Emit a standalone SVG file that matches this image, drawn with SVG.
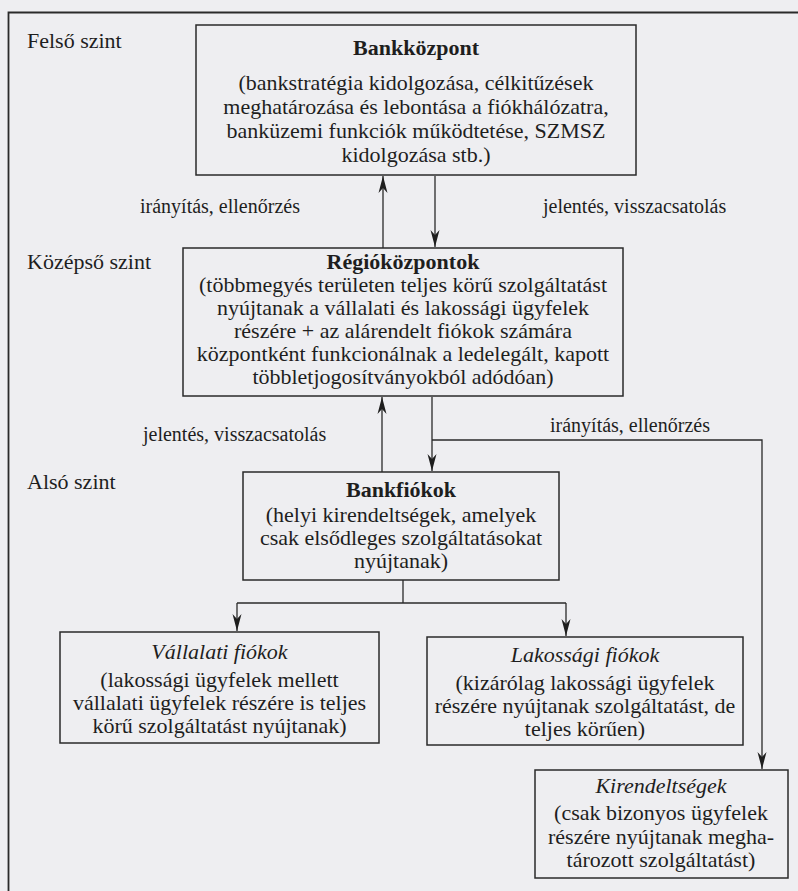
<svg xmlns="http://www.w3.org/2000/svg" width="798" height="891" viewBox="0 0 798 891">
<style>
text{font-family:"Liberation Serif","Times New Roman",serif;font-size:22px;fill:#1e1e1e}
.c{text-anchor:middle}
.b{font-weight:bold}
.i{font-style:italic}
.lbl{font-size:20px}
.box{fill:none;stroke:#2a2a2a;stroke-width:1.5}
.ln{fill:none;stroke:#2a2a2a;stroke-width:1.3}
</style>
<defs>
<marker id="ah" markerUnits="userSpaceOnUse" markerWidth="20" markerHeight="12" viewBox="-17 -6 18 12" refX="0" refY="0" orient="auto">
<path d="M0,0 L-17,-4.5 L-12,0 L-17,4.5 Z" fill="#1e1e1e"/>
</marker>
</defs>
<rect width="798" height="891" fill="#eeeef1"/>
<path d="M8.5,891 V12.5 H798" fill="none" stroke="#2a2a2a" stroke-width="1.8"/>
<g id="levels">
<text x="27" y="48">Felső szint</text>
<text x="27" y="269">Középső szint</text>
<text x="27" y="489">Alsó szint</text>
</g>
<g id="bankkozpont">
<rect class="box" x="196" y="25" width="440" height="150"/>
<text class="c b" x="416" y="55">Bankközpont</text>
<text class="c" x="416" y="90">(bankstratégia kidolgozása, célkitűzések</text>
<text class="c" x="416" y="114">meghatározása és lebontása a fiókhálózatra,</text>
<text class="c" x="416" y="138">banküzemi funkciók működtetése, SZMSZ</text>
<text class="c" x="416" y="162">kidolgozása stb.)</text>
</g>
<g id="regiokozpontok">
<rect class="box" x="183" y="248" width="440" height="148"/>
<text class="c b" x="403" y="269">Régióközpontok</text>
<text class="c" x="403" y="292">(többmegyés területen teljes körű szolgáltatást</text>
<text class="c" x="403" y="315">nyújtanak a vállalati és lakossági ügyfelek</text>
<text class="c" x="403" y="338">részére + az alárendelt fiókok számára</text>
<text class="c" x="403" y="361">központként funkcionálnak a ledelegált, kapott</text>
<text class="c" x="403" y="384">többletjogosítványokból adódóan)</text>
</g>
<g id="bankfiokok">
<rect class="box" x="243" y="472" width="316" height="108"/>
<text class="c b" x="401" y="497">Bankfiókok</text>
<text class="c" x="401" y="522">(helyi kirendeltségek, amelyek</text>
<text class="c" x="401" y="545">csak elsődleges szolgáltatásokat</text>
<text class="c" x="401" y="568">nyújtanak)</text>
</g>
<g id="vallalati">
<rect class="box" x="60" y="632" width="319" height="111"/>
<text class="c i" x="219.5" y="659">Vállalati fiókok</text>
<text class="c" x="219.5" y="687">(lakossági ügyfelek mellett</text>
<text class="c" x="219.5" y="710">vállalati ügyfelek részére is teljes</text>
<text class="c" x="219.5" y="733">körű szolgáltatást nyújtanak)</text>
</g>
<g id="lakossagi">
<rect class="box" x="427" y="637" width="316" height="108"/>
<text class="c i" x="585" y="662">Lakossági fiókok</text>
<text class="c" x="585" y="690">(kizárólag lakossági ügyfelek</text>
<text class="c" x="585" y="713">részére nyújtanak szolgáltatást, de</text>
<text class="c" x="585" y="736">teljes körűen)</text>
</g>
<g id="kirendeltsegek">
<rect class="box" x="535" y="770" width="253" height="108"/>
<text class="c i" x="661" y="793">Kirendeltségek</text>
<text class="c" x="661" y="820">(csak bizonyos ügyfelek</text>
<text class="c" x="661" y="844">részére nyújtanak megha-</text>
<text class="c" x="661" y="867">tározott szolgáltatást)</text>
</g>
<g id="connectors">
<path class="ln" d="M383,248 V176" marker-end="url(#ah)"/>
<path class="ln" d="M435,176 V247" marker-end="url(#ah)"/>
<path class="ln" d="M382,472 V397" marker-end="url(#ah)"/>
<path class="ln" d="M432,397 V471" marker-end="url(#ah)"/>
<path class="ln" d="M432,440 H762 V769" marker-end="url(#ah)"/>
<path class="ln" d="M403,580 V603"/>
<path class="ln" d="M237,603 H566"/>
<path class="ln" d="M237,603 V631" marker-end="url(#ah)"/>
<path class="ln" d="M566,603 V636" marker-end="url(#ah)"/>
<text class="lbl" x="140" y="213">irányítás, ellenőrzés</text>
<text class="lbl" x="543" y="213">jelentés, visszacsatolás</text>
<text class="lbl" x="143" y="441">jelentés, visszacsatolás</text>
<text class="lbl" x="550" y="432">irányítás, ellenőrzés</text>
</g>
</svg>
